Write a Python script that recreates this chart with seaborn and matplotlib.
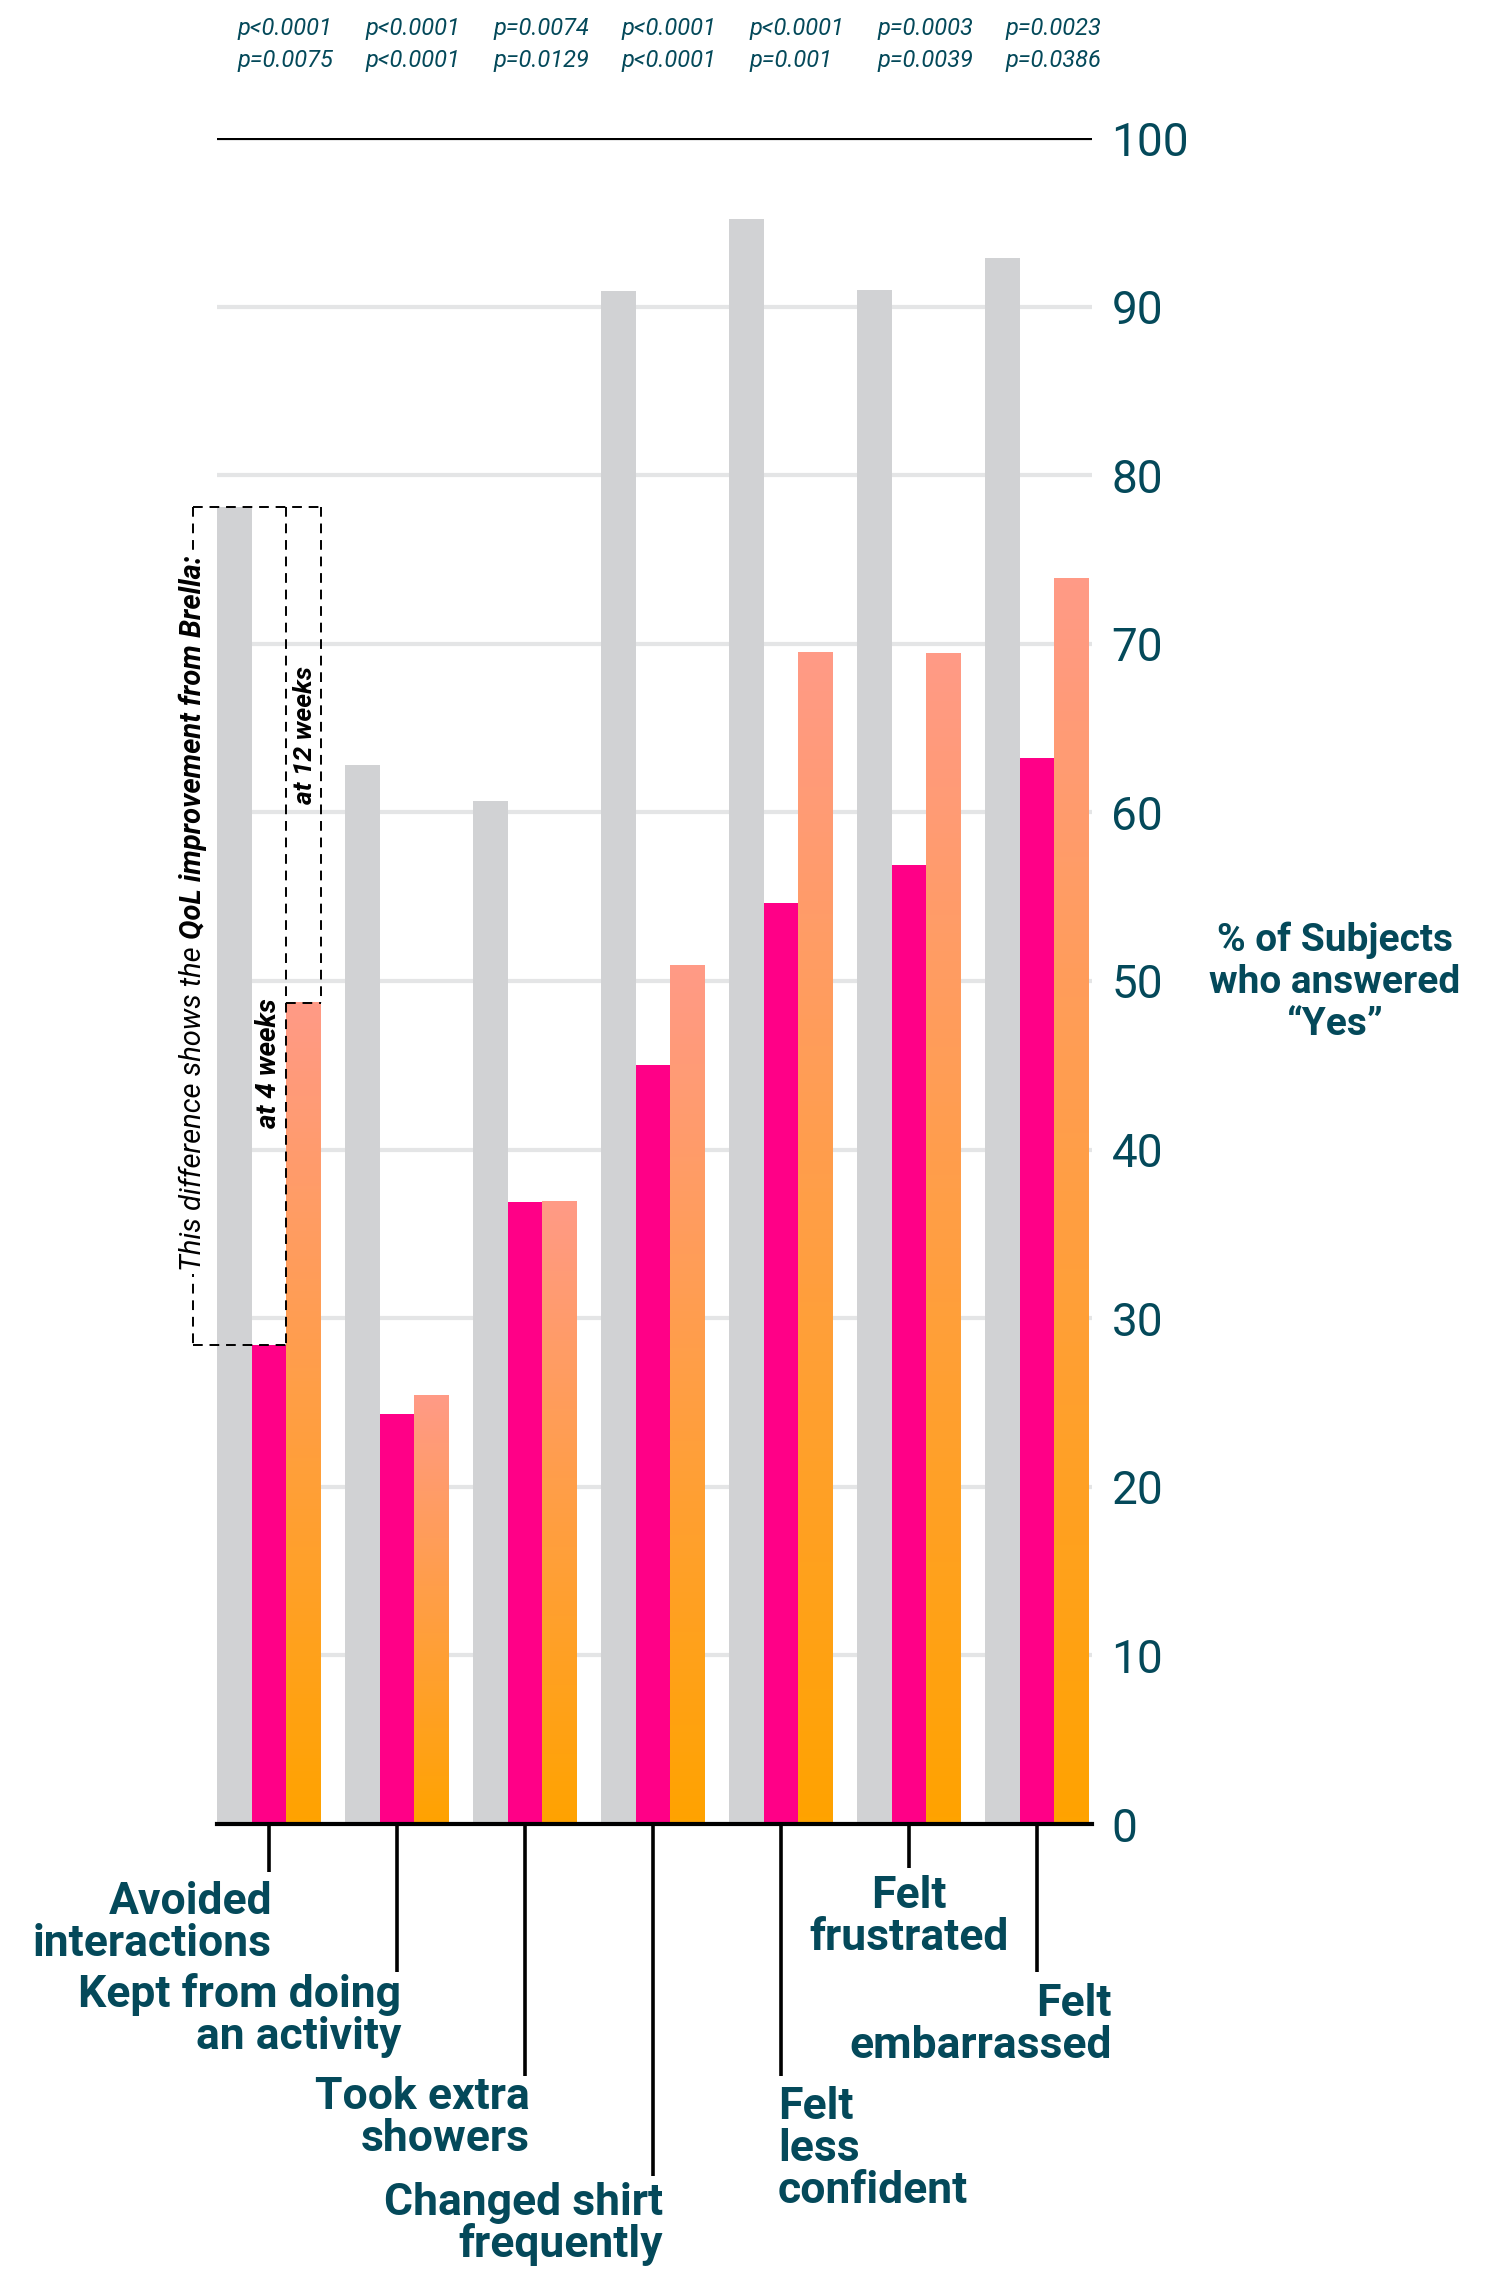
import numpy as np
import pandas as pd
import seaborn as sns
import matplotlib.pyplot as plt
from matplotlib import font_manager as fm
from matplotlib.colors import LinearSegmentedColormap
from matplotlib.transforms import blended_transform_factory

# data
items = ['Avoided\ninteractions', 'Kept from doing\nan activity', 'Took extra\nshowers',
         'Changed shirt\nfrequently', 'Felt\nless\nconfident', 'Felt\nfrustrated', 'Felt\nembarrassed']
series = ['Baseline', 'At 4 weeks', 'At 12 weeks']
baseline = [78.1, 62.8, 60.7, 90.9, 95.2, 91.0, 92.9]
week4 = [28.4, 24.3, 36.9, 45.0, 54.6, 56.9, 63.2]
week12 = [48.7, 25.4, 36.9, 50.9, 69.5, 69.4, 73.9]
p_row1 = ['p<0.0001', 'p<0.0001', 'p=0.0074', 'p<0.0001', 'p<0.0001', 'p=0.0003', 'p=0.0023']
p_row2 = ['p=0.0075', 'p<0.0001', 'p=0.0129', 'p<0.0001', 'p=0.001', 'p=0.0039', 'p=0.0386']
y_ticks = list(range(0, 101, 10))

TEAL = '#04495A'
GRAY = '#D1D2D4'
PINK = '#FF0087'
ORANGE = '#FFA300'
SALMON = '#FF9A86'

sns.set_style('white')
names = {f.name for f in fm.fontManager.ttflist}
COND = 'Liberation Sans Narrow' if 'Liberation Sans Narrow' in names else 'Roboto'
plt.rcParams['font.family'] = [COND, 'DejaVu Sans']

df = pd.DataFrame({
    'item': items * 3,
    'series': np.repeat(series, len(items)),
    'value': baseline + week4 + week12,
})

W, H = 1500, 2279
fig = plt.figure(figsize=(W / 100, H / 100), dpi=100)
ax = fig.add_axes([217 / W, 1 - 1824 / H, (1092 - 217) / W, (1824 - 138) / H])

sns.barplot(data=df, x='item', y='value', hue='series', hue_order=series,
            palette=[GRAY, PINK, ORANGE], saturation=1, width=0.8125, linewidth=0,
            legend=False, ax=ax, zorder=2)

# gradient fill on the 12-week bars
cmap = LinearSegmentedColormap.from_list('og', [ORANGE, SALMON])
grad = np.linspace(0, 1, 256).reshape(-1, 1)
for bar in ax.containers[2]:
    x0, w, h = bar.get_x(), bar.get_width(), bar.get_height()
    ax.imshow(grad, extent=[x0, x0 + w, 0, h], origin='lower', cmap=cmap,
              aspect='auto', zorder=2.1, interpolation='bicubic')
    bar.set_facecolor('none')

ax.set_xlim(-0.406, 6.43)
ax.set_ylim(0, 100)
ax.set_yticks(y_ticks)
ax.yaxis.tick_right()
ax.tick_params(axis='y', length=0, pad=14, labelsize=33, labelcolor=TEAL)
ax.tick_params(axis='x', length=0, labelbottom=False)
ax.set_xlabel('')
ax.set_ylabel('')
ax.yaxis.grid(True, color='#E4E5E6', lw=3)
ax.set_axisbelow(True)
for s in ['top', 'left', 'right']:
    ax.spines[s].set_visible(False)
ax.spines['bottom'].set_color('black')
ax.spines['bottom'].set_linewidth(3)
ax.axhline(100, color='black', lw=3, zorder=3)

# right axis title
fig.text(1335 / W, 1 - 982 / H, '% of Subjects\nwho answered\n\u201cYes\u201d',
         ha='center', va='center', fontsize=28, fontweight='bold', color=TEAL,
         family=['Roboto', 'DejaVu Sans'], linespacing=1.17)

# p-values above each group
for i in range(len(items)):
    fig.text((217 + 20 + i * 128) / W, 1 - 28 / H, p_row1[i], ha='left', va='center',
             fontsize=17, style='italic', color=TEAL)
    fig.text((217 + 20 + i * 128) / W, 1 - 61 / H, p_row2[i], ha='left', va='center',
             fontsize=17, style='italic', color=TEAL)

# category labels with leader lines
trans = blended_transform_factory(ax.transData, fig.transFigure)
line_end = [1872, 1972, 2076, 2176, 2076, 1868, 1972]
lab_dx = [3, 4, 5, 10, -3, 0, 75]
lab_y = [1923, 2016, 2118, 2224, 2149, 1917, 2025]
lab_ha = ['right', 'right', 'right', 'right', 'left', 'center', 'right']
for i in range(len(items)):
    ax.plot([i, i], [1 - 1824 / H, 1 - line_end[i] / H], color='black', lw=2.6,
            transform=trans, clip_on=False, solid_capstyle='butt')
    ax.text(i + lab_dx[i] / 128, 1 - lab_y[i] / H, items[i], transform=trans,
            ha=lab_ha[i], va='center', fontsize=32, fontweight='bold', color=TEAL,
            linespacing=1.0)

# dashed boxes showing improvement in the first group
dash = dict(color='black', lw=1.4, ls=(0, (5, 3.5)), clip_on=False, zorder=4)
b, p4, p12 = baseline[0], week4[0], week12[0]
xl, xm, xr = -0.594, 0.135, 0.406
ax.plot([xl, xr], [b, b], **dash)
ax.plot([xl, xl], [b, p4], **dash)
ax.plot([xl, xm], [p4, p4], **dash)
ax.plot([xm, xm], [b, p4], **dash)
ax.plot([xr, xr], [b, p12], **dash)
ax.plot([xm, xr], [p12, p12], **dash)

t1 = ax.text(xl, 32.8, 'This difference shows the ', rotation=90, ha='center', va='bottom',
             fontsize=21, style='italic', color='black', zorder=5,
             bbox=dict(boxstyle='square,pad=0.1', fc='white', ec='none'))
ax.annotate('QoL improvement from Brella:', xy=(0.5, 1), xycoords=t1, rotation=90,
            ha='center', va='bottom', fontsize=21, style='italic', fontweight='bold',
            color='black', zorder=5,
            bbox=dict(boxstyle='square,pad=0.1', fc='white', ec='none'))
ax.text(0.0, p12 + 0.3, 'at 4 weeks', rotation=90, ha='center', va='top', fontsize=20,
        style='italic', fontweight='bold', color='black', zorder=5)
ax.text(0.28, 64.6, 'at 12 weeks', rotation=90, ha='center', va='center', fontsize=19,
        style='italic', fontweight='bold', color='black', zorder=5)

fig.savefig('out.png', dpi=100)
